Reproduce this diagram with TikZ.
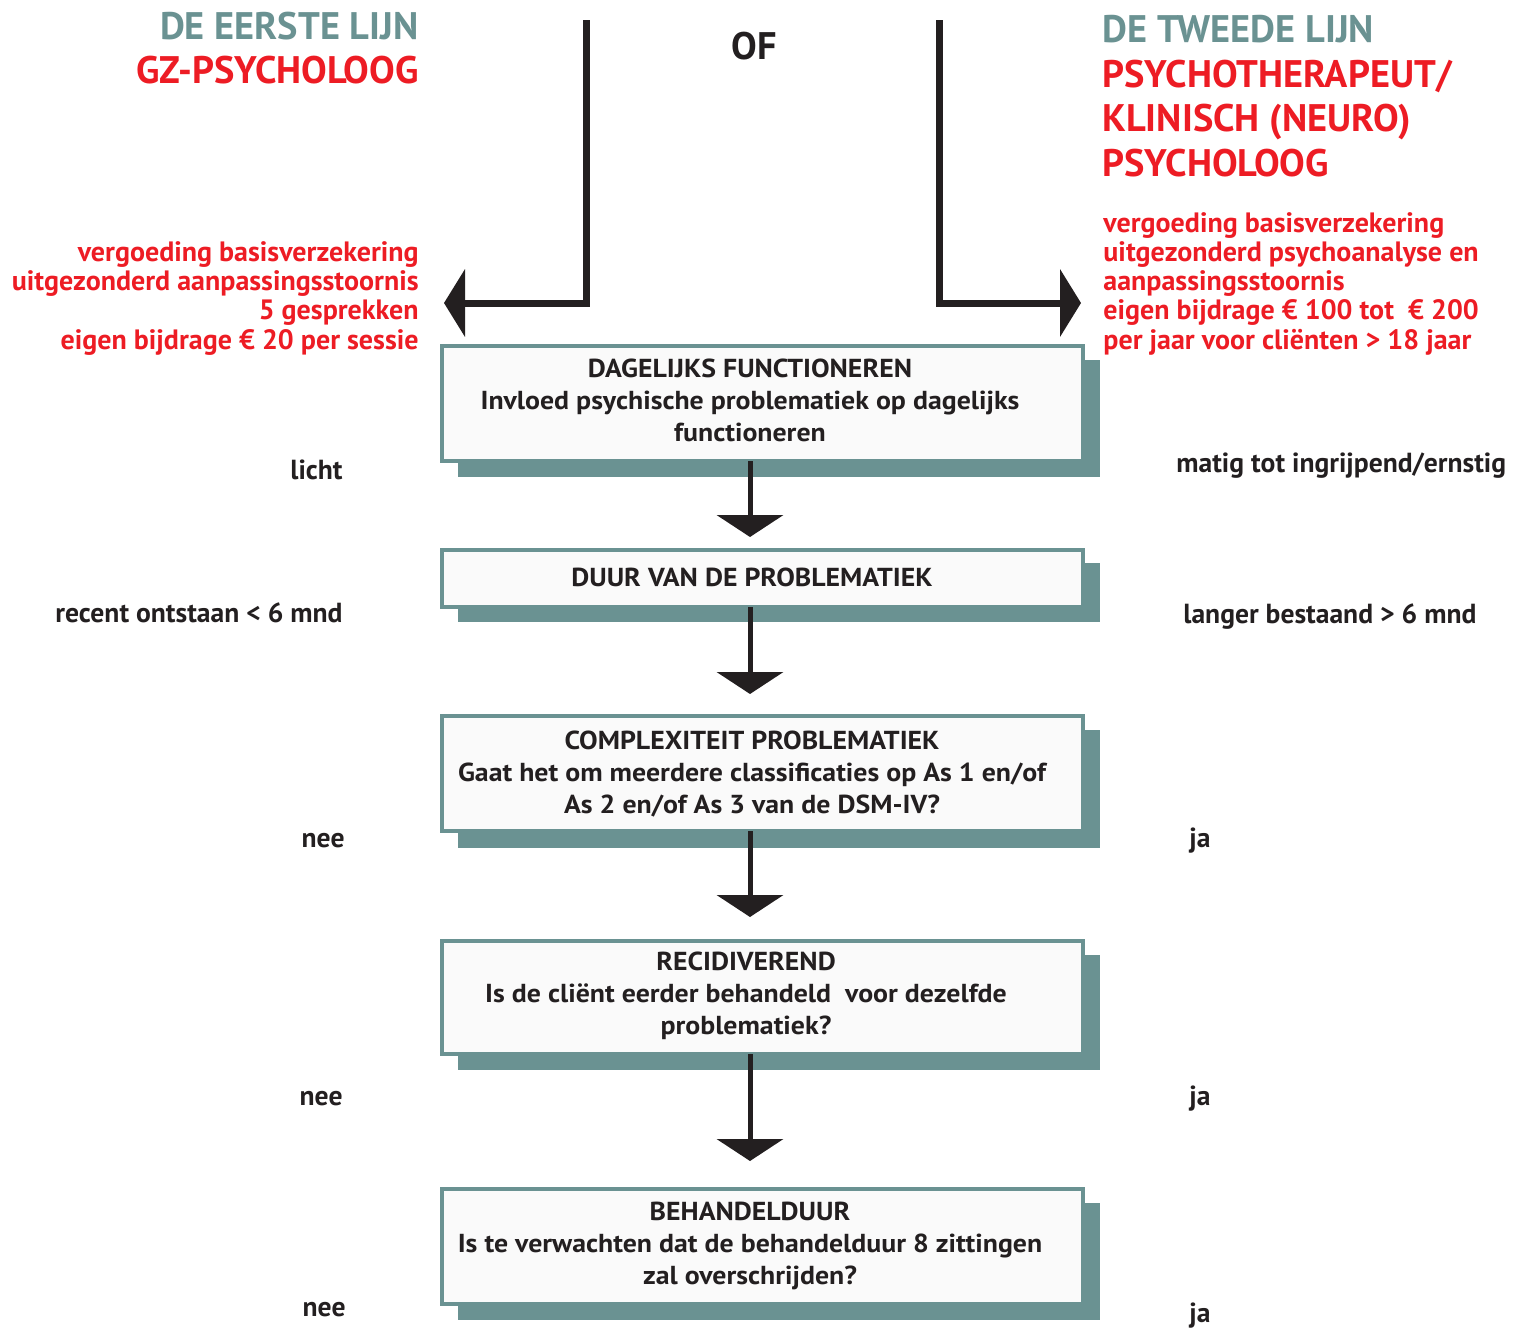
\documentclass[tikz,border=0pt]{standalone}
\usepackage{fontspec}
\setmainfont{PT Sans}
\newfontfamily\boxfont[FakeStretch=1.07]{PT Sans}
\usetikzlibrary{arrows.meta}
\definecolor{tealgray}{HTML}{6A9292}
\definecolor{myred}{HTML}{ED1C24}
\definecolor{ink}{HTML}{231F20}
\definecolor{boxfill}{HTML}{FAFAFA}
\begin{document}
\begin{tikzpicture}[x=0.5pt,y=-0.5pt,
  redlbl/.style={inner sep=0pt, text=myred, font=\bfseries\fontsize{14}{15}\selectfont},
  blklbl/.style={inner sep=0pt, text=ink, font=\bfseries\fontsize{13.8}{15}\selectfont},
  title/.style={inner sep=0pt, font=\bfseries\fontsize{19.2}{21}\selectfont},
  stepbox/.style={draw=tealgray, line width=2pt, fill=boxfill, inner sep=0pt, outer sep=0pt, minimum width=320.5pt},
  boxtxt/.style={inner sep=0pt, text=ink, align=center, font=\boxfont\bfseries\fontsize{13}{16}\selectfont},
  shadow/.style={fill=tealgray},
  flow/.style={draw=ink, line width=2.5pt, -{Triangle[width=33pt,length=11pt]}},
  side/.style={draw=ink, line width=3.5pt, line join=miter, -{Triangle[width=33.5pt,length=10.5pt]}},
]
\useasboundingbox (0,0) rectangle (1525,1328);

% titles left
\node[title, text=tealgray, anchor=base east] (t1l) at (419,39) {DE EERSTE LIJN};
\node[title, text=myred, anchor=base east] (t2l) at (419,83) {GZ-PSYCHOLOOG};
% titles right
\node[title, text=tealgray, anchor=base west] (t1r) at (1102,42.5) {DE TWEEDE LIJN};
\node[title, text=myred, anchor=base west] (t2r) at (1102,87) {PSYCHOTHERAPEUT/};
\node[title, text=myred, anchor=base west] (t3r) at (1102,131.5) {KLINISCH (NEURO)};
\node[title, text=myred, anchor=base west] (t4r) at (1102,176) {PSYCHOLOOG};
% OF
\node[title, text=ink, anchor=base] (of) at (754,59) {OF};

% left red info
\node[redlbl, anchor=base east] (l1) at (419,261) {vergoeding basisverzekering};
\node[redlbl, anchor=base east] (l2) at (419,290) {uitgezonderd aanpassingsstoornis};
\node[redlbl, anchor=base east] (l3) at (419,319.5) {5 gesprekken};
\node[redlbl, anchor=base east] (l4) at (419,349) {eigen bijdrage € 20 per sessie};
% right red info
\node[redlbl, anchor=base west] (r1) at (1103,232) {vergoeding basisverzekering};
\node[redlbl, anchor=base west] (r2) at (1103,261) {uitgezonderd psychoanalyse en};
\node[redlbl, anchor=base west] (r3) at (1103,290) {aanpassingsstoornis};
\node[redlbl, anchor=base west] (r4) at (1103,319.5) {eigen bijdrage € 100 tot~ € 200};
\node[redlbl, anchor=base west] (r5) at (1103,349) {per jaar voor cliënten > 18 jaar};

% top split arrows
\coordinate (ltop) at (586.5,20);
\coordinate (ltip) at (444,303);
\coordinate (rtop) at (939.5,20);
\coordinate (rtip) at (1081,303);
\draw[side] (ltop) |- (ltip);
\draw[side] (rtop) |- (rtip);

% shadows
\fill[shadow] (458,360) rectangle (1100,477);
\fill[shadow] (458,563) rectangle (1100,622);
\fill[shadow] (458,730) rectangle (1100,848);
\fill[shadow] (458,955) rectangle (1100,1070);
\fill[shadow] (458,1203) rectangle (1100,1320);

% boxes
\node[stepbox, minimum height=57.5pt] (b1) at (762.5,403.5) {};
\node[stepbox, minimum height=28.5pt] (b2) at (762.5,578.5) {};
\node[stepbox, minimum height=57.5pt] (b3) at (762.5,773.5) {};
\node[stepbox, minimum height=56.5pt] (b4) at (762.5,997.5) {};
\node[stepbox, minimum height=57.5pt] (b5) at (762.5,1246.5) {};

\node[boxtxt] (x1) at (750,400) {DAGELIJKS FUNCTIONEREN\\Invloed psychische problematiek op dagelijks\\functioneren};
\node[boxtxt] (x2) at (752,577) {DUUR VAN DE PROBLEMATIEK};
\node[boxtxt] (x3) at (752,774) {COMPLEXITEIT PROBLEMATIEK\\Gaat het om meerdere classificaties op As 1 en/of\\As 2 en/of As 3 van de DSM-IV?};
\node[boxtxt] (x4) at (746,996) {RECIDIVEREND\\Is de cliënt eerder behandeld~ voor dezelfde\\problematiek?};
\node[boxtxt] (x5) at (750,1246) {BEHANDELDUUR\\Is te verwachten dat de behandelduur 8 zittingen\\zal overschrijden?};

% flow arrows
\coordinate (ax) at (750,0);
\draw[flow, shorten >=6.5pt] (ax |- b1.south) -- (ax |- b2.north);
\draw[flow, shorten >=11pt] (ax |- b2.south) -- (ax |- b3.north);
\draw[flow, shorten >=12pt] (ax |- b3.south) -- (ax |- b4.north);
\draw[flow, shorten >=14pt] (ax |- b4.south) -- (ax |- b5.north);

% side labels
\node[blklbl, anchor=base east] (s1l) at (343,479) {licht};
\node[blklbl, anchor=base west] (s1r) at (1176,472) {matig tot ingrijpend/ernstig};
\node[blklbl, anchor=base east] (s2l) at (343,622) {recent ontstaan < 6 mnd};
\node[blklbl, anchor=base west] (s2r) at (1183,623) {langer bestaand > 6 mnd};
\node[blklbl, anchor=base east] (s3l) at (345,847) {nee};
\node[blklbl, anchor=base west] (s3r) at (1189,847) {ja};
\node[blklbl, anchor=base east] (s4l) at (343,1105) {nee};
\node[blklbl, anchor=base west] (s4r) at (1189,1105) {ja};
\node[blklbl, anchor=base east] (s5l) at (346,1316) {nee};
\node[blklbl, anchor=base west] (s5r) at (1189,1322) {ja};
\end{tikzpicture}
\end{document}
